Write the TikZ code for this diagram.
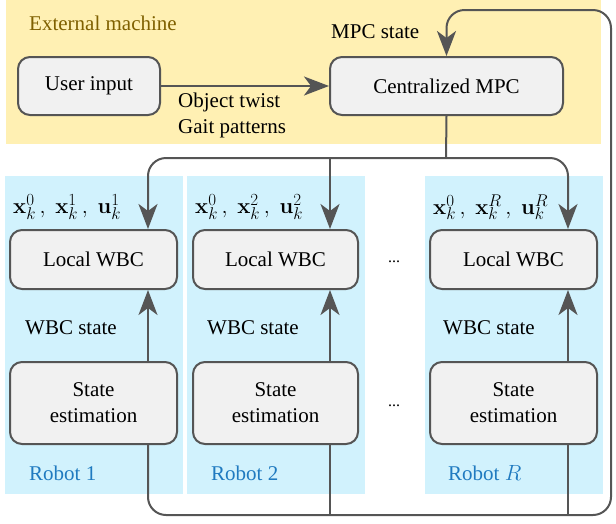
\RequirePackage{fix-cm}
\documentclass[tikz,border=0pt]{standalone}
\usepackage[no-math]{fontspec}
\setmainfont{Liberation Serif}
\usetikzlibrary{arrows.meta}
\DeclareMathSizes{21}{22}{17}{12}
\definecolor{yel}{HTML}{FFF0B3}
\definecolor{blu}{HTML}{D1F2FD}
\definecolor{ln}{HTML}{555555}
\definecolor{boxfill}{HTML}{F1F1F1}
\definecolor{robtxt}{HTML}{1F7AC0}
\definecolor{exttxt}{HTML}{7F6000}
\begin{document}
\begin{tikzpicture}[x=1pt,y=-1pt,
  font=\fontsize{21}{26}\selectfont,
  blk/.style={draw=ln, line width=2pt, fill=boxfill, rounded corners=12pt,
    align=center, inner sep=0pt, minimum height=58pt},
  conn/.style={draw=ln, line width=2pt, rounded corners=18pt},
  arr/.style={-{Stealth[length=25pt,width=19pt,inset=7pt]}},
  lbl/.style={anchor=west, inner sep=0pt},
  rob/.style={lbl, text=robtxt},
  dots/.style={inner sep=0pt, font=\fontsize{16}{18}\selectfont}]
\useasboundingbox (0,0) rectangle (616,523);
% backgrounds
\fill[yel] (6,0) rectangle (601,144);
\fill[blu] (5,176) rectangle (183,494);
\fill[blu] (187,176) rectangle (365,494);
\fill[blu] (425,176) rectangle (603,494);
% column x coordinates
\coordinate (c1) at (148,0);
\coordinate (c2) at (330,0);
\coordinate (cR) at (568,0);
\coordinate (j) at (446,158);
\coordinate (lb) at (0,515);
\coordinate (lt) at (0,10);
\coordinate (lr) at (611,0);
% boxes
\node[blk, minimum width=142pt] (user) at (89,86) {User input};
\node[blk, minimum width=233pt] (mpc) at (446.5,86) {Centralized MPC};
\node[blk, minimum width=167pt, minimum height=59pt] (wbc1) at (93.5,259.5) {Local WBC};
\node[blk, minimum width=165pt, minimum height=59pt] (wbc2) at (275.5,259.5) {Local WBC};
\node[blk, minimum width=167pt, minimum height=59pt] (wbcR) at (513.5,259.5) {Local WBC};
\node[blk, minimum width=167pt, minimum height=82pt] (se1) at (93.5,403) {State\\estimation};
\node[blk, minimum width=165pt, minimum height=82pt] (se2) at (275.5,403) {State\\estimation};
\node[blk, minimum width=167pt, minimum height=82pt] (seR) at (513.5,403) {State\\estimation};
% labels
\node[lbl, text=exttxt] (ext) at (29,23) {External machine};
\node[lbl] (mpcst) at (331,32) {MPC state};
\node[lbl, align=left] (twist) at (178,115) {Object twist\\Gait patterns};
\node[lbl] (m1) at (13,207) {$\mathbf{x}_k^0\,,\;\mathbf{x}_k^1\,,\;\mathbf{u}_k^1$};
\node[lbl] (m2) at (195,207) {$\mathbf{x}_k^0\,,\;\mathbf{x}_k^2\,,\;\mathbf{u}_k^2$};
\node[lbl] (mR) at (433,207) {$\mathbf{x}_k^0\,,\;\mathbf{x}_k^R\,,\;\mathbf{u}_k^R$};
\node[lbl] (w1) at (25,328) {WBC state};
\node[lbl] (w2) at (207,328) {WBC state};
\node[lbl] (wR) at (443,328) {WBC state};
\node[rob] (r1) at (29,473) {Robot 1};
\node[rob] (r2) at (211,473) {Robot 2};
\node[rob] (rR) at (448,473) {Robot $R$};
\node[dots] (d1) at (394,262) {...};
\node[dots] (d2) at (394,406) {...};
% connectors
\draw[conn, arr] (user) -- (mpc);
\draw[conn] (mpc.south) -- (j);
\draw[conn, arr] (j) -| (wbc1.north -| c1);
\draw[conn, arr] (j) -| (wbcR.north -| cR);
\draw[conn, arr] (j -| c2) -- (wbc2.north -| c2);
\draw[conn, arr] (se1.north -| c1) -- (wbc1.south -| c1);
\draw[conn, arr] (se2.north -| c2) -- (wbc2.south -| c2);
\draw[conn, arr] (seR.north -| cR) -- (wbcR.south -| cR);
\draw[conn, arr] (se1.south -| c1) -- (c1 |- lb) -- (lr |- lb) -- (lr |- lt) -- (mpc.north |- lt) -- (mpc.north);
\draw[conn] (se2.south -| c2) -- (c2 |- lb);
\draw[conn] (seR.south -| cR) -- (cR |- lb);
\end{tikzpicture}
\end{document}
